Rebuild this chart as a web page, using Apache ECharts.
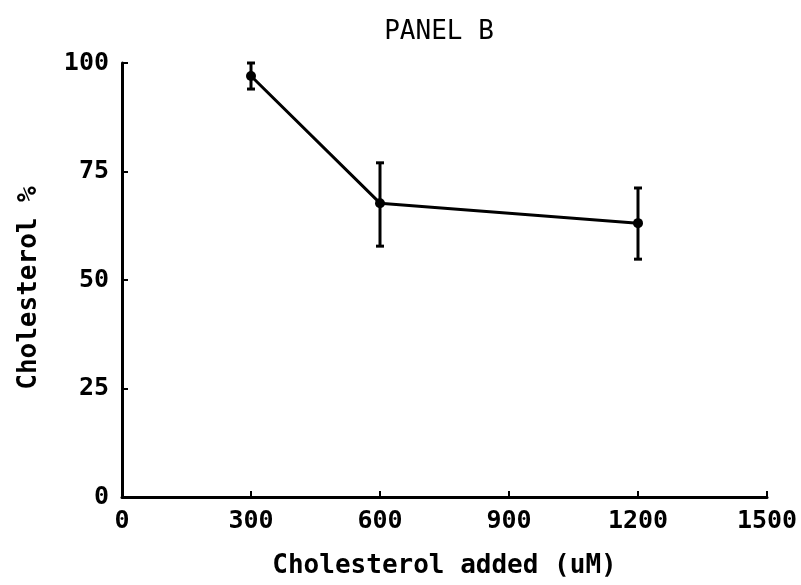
<!DOCTYPE html>
<html>
<head>
<meta charset="utf-8">
<script src="https://cdn.jsdelivr.net/npm/echarts@6/dist/echarts.min.js"></script>
<style>html,body{margin:0;padding:0;background:#fff;}#c{width:801px;height:585px;}</style>
</head>
<body>
<div id="c"></div>
<script>
var xValues = [300, 600, 1200];
var yMeans = [97, 67.7, 63.1];
var yLow = [94, 57.8, 54.8];
var yHigh = [100, 77, 71.2];
var xTicks = [0, 300, 600, 900, 1200, 1500];
var yTicks = [0, 25, 50, 75, 100];

var monoFont = '"DejaVu Sans Mono", "Liberation Mono", monospace';
var chart = echarts.init(document.getElementById('c'));
var lineData = xValues.map(function (x, i) { return [x, yMeans[i]]; });
var errData = xValues.map(function (x, i) { return [x, yLow[i], yHigh[i]]; });

chart.setOption({
  animation: false,
  backgroundColor: '#fff',
  title: {
    text: 'PANEL B', left: 434, top: 14, textAlign: 'center',
    textStyle: { fontFamily: monoFont, fontSize: 26, fontWeight: 'normal', color: '#000' }
  },
  grid: { left: 122, right: 34, top: 63, bottom: 88, containLabel: false, outerBoundsMode: 'none' },
  xAxis: {
    type: 'value', min: 0, max: 1500, interval: 300,
    name: 'Cholesterol added (uM)', nameLocation: 'middle', nameGap: 56,
    nameTextStyle: { fontFamily: monoFont, fontSize: 26, fontWeight: 'bold', color: '#000' },
    axisLine: { show: true, lineStyle: { color: '#000', width: 3 } },
    axisTick: { show: true, inside: true, length: 6, lineStyle: { color: '#000', width: 2 } },
    axisLabel: { fontFamily: monoFont, fontSize: 25, fontWeight: 'bold', color: '#000', margin: 12,
      formatter: function (v) { return xTicks.indexOf(v) >= 0 ? String(v) : ''; } },
    splitLine: { show: false }
  },
  yAxis: {
    type: 'value', min: 0, max: 100, interval: 25,
    name: 'Cholesterol %', nameLocation: 'middle', nameGap: 80, nameRotate: 90,
    nameTextStyle: { fontFamily: monoFont, fontSize: 26, fontWeight: 'bold', color: '#000', padding: [0, 16, 0, 0] },
    axisLine: { show: true, lineStyle: { color: '#000', width: 3 } },
    axisTick: { show: true, inside: true, length: 6, lineStyle: { color: '#000', width: 2 } },
    axisLabel: { fontFamily: monoFont, fontSize: 25, fontWeight: 'bold', color: '#000', margin: 13,
      formatter: function (v) { return yTicks.indexOf(v) >= 0 ? String(v) : ''; } },
    splitLine: { show: false }
  },
  series: [
    {
      type: 'line', data: lineData, symbol: 'circle', symbolSize: 10,
      lineStyle: { color: '#000', width: 3 }, itemStyle: { color: '#000' }, z: 3
    },
    {
      type: 'custom', data: errData, z: 4,
      renderItem: function (params, api) {
        var x = api.value(0);
        var lo = api.coord([x, api.value(1)]);
        var hi = api.coord([x, api.value(2)]);
        var w = 4;
        var st = { stroke: '#000', lineWidth: 3 };
        return {
          type: 'group',
          children: [
            { type: 'line', shape: { x1: lo[0], y1: lo[1], x2: hi[0], y2: hi[1] }, style: st },
            { type: 'line', shape: { x1: lo[0] - w, y1: lo[1], x2: lo[0] + w, y2: lo[1] }, style: st },
            { type: 'line', shape: { x1: hi[0] - w, y1: hi[1], x2: hi[0] + w, y2: hi[1] }, style: st }
          ]
        };
      }
    }
  ]
});
</script>
</body>
</html>
